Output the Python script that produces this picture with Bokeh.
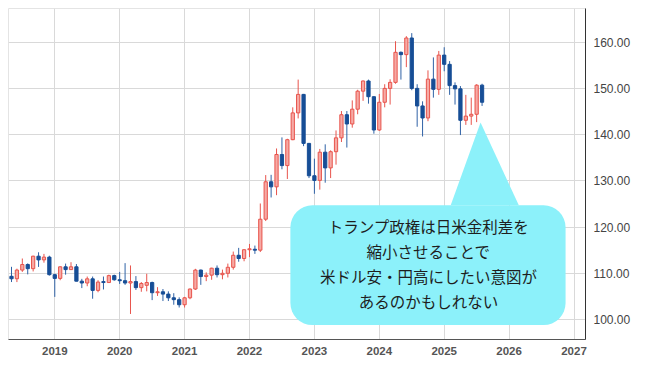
from bokeh.plotting import figure
from bokeh.models import FixedTicker, Range1d, ColumnDataSource, NumeralTickFormatter
from bokeh.embed import file_html
from bokeh.resources import INLINE
from bokeh.core.properties import value

# ---- data: monthly USD/JPY candles ----
months = [
    "2018-05", "2018-06", "2018-07", "2018-08", "2018-09", "2018-10", "2018-11", "2018-12",
    "2019-01", "2019-02", "2019-03", "2019-04", "2019-05", "2019-06", "2019-07", "2019-08", "2019-09", "2019-10", "2019-11", "2019-12",
    "2020-01", "2020-02", "2020-03", "2020-04", "2020-05", "2020-06", "2020-07", "2020-08", "2020-09", "2020-10", "2020-11", "2020-12",
    "2021-01", "2021-02", "2021-03", "2021-04", "2021-05", "2021-06", "2021-07", "2021-08", "2021-09", "2021-10", "2021-11", "2021-12",
    "2022-01", "2022-02", "2022-03", "2022-04", "2022-05", "2022-06", "2022-07", "2022-08", "2022-09", "2022-10", "2022-11", "2022-12",
    "2023-01", "2023-02", "2023-03", "2023-04", "2023-05", "2023-06", "2023-07", "2023-08", "2023-09", "2023-10", "2023-11", "2023-12",
    "2024-01", "2024-02", "2024-03", "2024-04", "2024-05", "2024-06", "2024-07", "2024-08", "2024-09", "2024-10", "2024-11", "2024-12",
    "2025-01", "2025-02", "2025-03", "2025-04", "2025-05", "2025-06", "2025-07", "2025-08",
]
opens = [
    109.35, 108.82, 110.70, 111.90, 111.00, 113.70, 112.90, 113.50,
    109.70, 108.90, 111.40, 110.80, 111.40, 108.30, 107.90, 108.80, 106.30, 108.10, 108.00, 109.50,
    108.60, 108.40, 107.90, 108.20, 106.90, 107.40, 108.00, 105.80, 106.00, 105.50, 104.70, 104.30,
    103.20, 104.70, 106.60, 110.70, 109.30, 109.60, 111.10, 109.70, 110.00, 111.30, 113.90, 113.20,
    115.10, 115.20, 115.00, 121.70, 129.80, 128.70, 135.70, 133.30, 138.90, 144.70, 148.70, 138.10,
    131.10, 130.10, 136.20, 132.80, 136.30, 139.30, 144.30, 142.30, 145.50, 149.40, 151.60, 148.20,
    141.00, 147.00, 150.00, 151.30, 157.80, 157.30, 160.90, 150.00, 146.20, 143.60, 152.00, 149.80,
    157.20, 155.20, 150.60, 149.90, 143.10, 144.00, 144.40, 150.70,
]
highs = [
    111.40, 111.00, 113.20, 112.15, 113.80, 114.55, 114.20, 113.80,
    109.90, 111.50, 112.10, 112.40, 112.00, 108.80, 109.30, 109.30, 108.50, 109.30, 109.70, 109.70,
    110.30, 112.20, 111.70, 109.40, 108.10, 109.90, 108.20, 107.00, 106.60, 106.10, 105.70, 104.80,
    104.90, 106.70, 110.97, 110.80, 110.20, 111.20, 111.70, 110.80, 112.10, 114.70, 115.50, 115.20,
    116.35, 116.00, 125.10, 131.25, 131.30, 137.00, 139.40, 139.10, 145.90, 151.90, 148.80, 138.20,
    134.80, 136.90, 137.90, 136.60, 140.90, 145.10, 145.10, 147.40, 149.70, 151.70, 151.90, 148.30,
    148.80, 150.90, 151.97, 160.20, 157.99, 161.30, 161.95, 150.90, 147.20, 153.90, 156.70, 158.10,
    158.90, 155.90, 151.30, 150.50, 148.60, 148.00, 150.90, 151.00,
]
lows = [
    108.11, 108.10, 110.30, 109.77, 110.40, 111.38, 112.30, 109.50,
    104.90, 108.50, 109.70, 110.80, 108.25, 106.80, 107.20, 104.50, 105.90, 106.50, 107.90, 108.40,
    107.70, 107.50, 101.20, 106.40, 106.00, 106.10, 104.20, 105.10, 104.00, 104.00, 103.20, 102.60,
    102.60, 104.40, 106.40, 107.50, 108.30, 108.60, 109.10, 108.70, 109.10, 110.80, 112.50, 112.60,
    113.50, 114.20, 114.60, 121.30, 126.40, 126.90, 132.50, 130.40, 138.80, 143.50, 137.50, 130.60,
    127.20, 128.10, 129.60, 130.60, 133.50, 138.40, 137.20, 141.50, 144.40, 147.30, 146.70, 140.20,
    140.80, 145.90, 146.50, 151.00, 151.90, 154.60, 149.60, 141.70, 139.60, 142.90, 148.00, 148.60,
    153.70, 148.60, 146.50, 139.90, 142.10, 142.10, 142.70, 146.20,
]
closes = [
    108.82, 110.70, 111.90, 111.00, 113.70, 112.90, 113.50, 109.70,
    108.90, 111.40, 110.80, 111.40, 108.30, 107.90, 108.80, 106.30, 108.10, 108.00, 109.50, 108.60,
    108.40, 107.90, 108.20, 106.90, 107.80, 108.00, 105.80, 106.00, 105.50, 104.70, 104.30, 103.20,
    104.70, 106.60, 110.70, 109.30, 109.60, 111.10, 109.70, 110.00, 111.30, 113.90, 113.20, 115.10,
    115.20, 115.00, 121.70, 129.80, 128.70, 135.70, 133.30, 138.90, 144.70, 148.70, 138.10, 131.10,
    130.10, 136.20, 132.80, 136.30, 139.30, 144.30, 142.30, 145.50, 149.40, 151.60, 148.20, 141.00,
    147.00, 150.00, 151.30, 157.80, 157.30, 160.90, 150.00, 146.20, 143.60, 152.00, 149.80, 157.20,
    155.20, 150.60, 149.90, 143.10, 144.00, 144.40, 150.70, 147.00,
]

year_ticks = [2019, 2020, 2021, 2022, 2023, 2024, 2025, 2026, 2027]
year_labels = ["2019", "2020", "2021", "2022", "2023", "2024", "2025", "2026", "2027"]
price_ticks = [100, 110, 120, 130, 140, 150, 160]

callout_lines = [
    "トランプ政権は日米金利差を",
    "縮小させることで",
    "米ドル安・円高にしたい意図が",
    "あるのかもしれない",
]

# ---- styling ----
UP_LINE = "#e8544c"
UP_FILL = "#f6aaa5"
DOWN_FILL = "#174e96"
DOWN_WICK = "#2f62a6"
CALLOUT = "#8cf1fa"


def month_to_x(m):
    y, mo = m.split("-")
    return int(y) + (int(mo) - 1) / 12.0


xs = [month_to_x(m) for m in months]
is_up = [c >= o for o, c in zip(opens, closes)]
body_top = [max(o, c) for o, c in zip(opens, closes)]
body_bot = [min(o, c) for o, c in zip(opens, closes)]
body_top = [t if t - b >= 0.2 else b + 0.2 for t, b in zip(body_top, body_bot)]

src = ColumnDataSource(dict(
    x=xs, high=highs, low=lows, top=body_top, bottom=body_bot,
    fill=[UP_FILL if u else DOWN_FILL for u in is_up],
    line=[UP_LINE if u else DOWN_FILL for u in is_up],
    wick=[UP_LINE if u else DOWN_WICK for u in is_up],
))

p = figure(
    width=640, height=365,
    x_range=Range1d(2018.287, 2027.177),
    y_range=Range1d(95.68, 167.28),
    output_backend="svg", toolbar_location=None,
    y_axis_location="right",
    min_border_left=8, min_border_top=8, min_border_right=55, min_border_bottom=26,
)
p.background_fill_color = "white"
p.border_fill_color = "white"
p.outline_line_color = "#e4e4e4"

# axes
p.xaxis.ticker = FixedTicker(ticks=year_ticks)
p.xaxis.major_label_overrides = {t: l for t, l in zip(year_ticks, year_labels)}
p.yaxis.ticker = FixedTicker(ticks=price_ticks)
p.yaxis.formatter = NumeralTickFormatter(format="0.00")
for ax in (p.xaxis, p.yaxis):
    ax.major_tick_line_color = None
    ax.minor_tick_line_color = None
    ax.major_tick_out = 0
    ax.major_tick_in = 0
p.xaxis.axis_line_color = "#555555"
p.yaxis.axis_line_color = "#333333"
p.xaxis.major_label_text_font = "Liberation Sans"
p.xaxis.major_label_text_font_style = "bold"
p.xaxis.major_label_text_font_size = "11.5px"
p.xaxis.major_label_text_color = "#555555"
p.xaxis.major_label_standoff = 7
p.yaxis.major_label_text_font = "Liberation Sans"
p.yaxis.major_label_text_font_size = "12px"
p.yaxis.major_label_text_color = "#444444"
p.yaxis.major_label_standoff = 8

p.xgrid.ticker = FixedTicker(ticks=year_ticks)
p.ygrid.ticker = FixedTicker(ticks=price_ticks)
p.xgrid.grid_line_color = "#d9d9d9"
p.ygrid.grid_line_color = "#d9d9d9"

# candles
p.segment(x0="x", y0="low", x1="x", y1="high", line_color="wick", line_width=1, source=src)
p.vbar(x="x", width=0.05, top="top", bottom="bottom", fill_color="fill",
       line_color="line", line_width=1, source=src)

# callout (placed in date / price units)
box_left, box_right, box_top, box_bottom = 2022.63, 2026.87, 124.7, 98.8
p.quad(left=[box_left], right=[box_right], top=[box_top], bottom=[box_bottom],
       fill_color=CALLOUT, line_color=None, border_radius=22)
apex_x, apex_y = 2025.56, 142.6
p.patch(x=[2025.10, apex_x, 2026.15], y=[box_top, apex_y, box_top],
        fill_color=CALLOUT, line_color=None)

text_x = 2024.758
text_y = [120.3, 114.9, 109.5, 104.1]
p.text(x=[text_x] * len(callout_lines), y=text_y, text=callout_lines,
       text_align="center", text_baseline="middle",
       text_font=value("Noto Sans CJK JP"), text_font_size="15.5px",
       text_color="#1e1e1e")

open("out.html", "w").write(file_html(p, INLINE))
